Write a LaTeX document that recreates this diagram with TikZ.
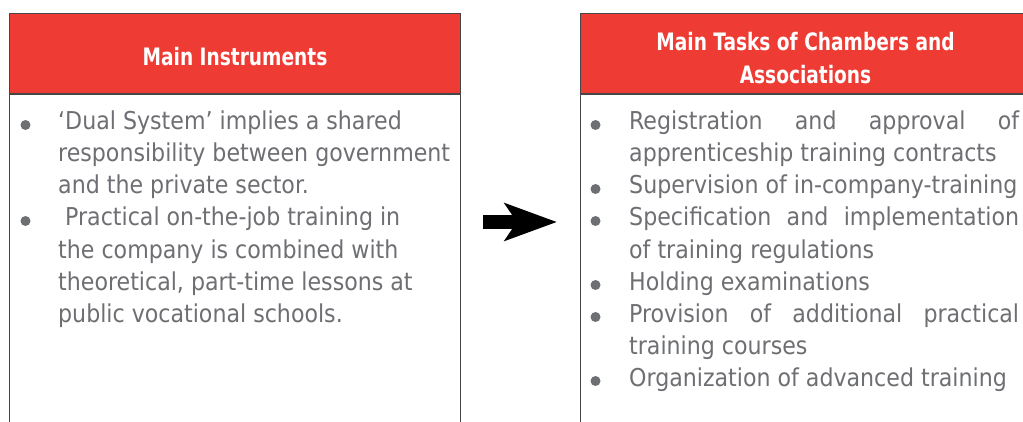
\documentclass[tikz,border=0pt]{standalone}
\usepackage{fontspec}
\setmainfont{DejaVu Sans Condensed}
\newfontfamily\hdrfont[FakeStretch=0.86]{DejaVu Sans Condensed}
\usetikzlibrary{arrows.meta}
\definecolor{hdrred}{RGB}{238,60,52}
\definecolor{txtgray}{RGB}{110,111,115}
\definecolor{edgegray}{RGB}{70,70,70}
\tikzset{
  hdrbox/.style={draw=edgegray, line width=1pt, fill=hdrred, minimum width=451pt, minimum height=80pt, inner sep=0pt},
  hdrtext/.style={text=white, font=\hdrfont\bfseries\fontsize{24}{34}\selectfont, anchor=base, inner sep=0pt},
  bodybox/.style={draw=edgegray, line width=1pt, fill=white, minimum width=451pt, minimum height=340pt, anchor=north, inner sep=0pt},
  txtline/.style={font=\fontsize{24.6}{32}\selectfont, text=txtgray, anchor=base west, inner sep=0pt},
  dot/.style={circle, fill=txtgray, minimum size=10pt, inner sep=0pt},
}
\begin{document}
\begin{tikzpicture}[x=1pt,y=1pt]
\useasboundingbox (0,0) rectangle (1023,421);
\begin{scope}
\clip (0,0) rectangle (1023,421);
% left box
\node[hdrbox] (lhead) at (235,367) {};
\node[bodybox] (lbody) at (lhead.south) {};
% right box
\node[hdrbox] (rhead) at (805.5,367) {};
\node[bodybox] (rbody) at (rhead.south) {};
\end{scope}
\node[hdrtext] (lht) at (235,355) {Main Instruments};
\node[hdrtext] (rht1) at (805.5,370.5) {Main Tasks of Chambers and};
\node[hdrtext] (rht2) at (805.5,337) {Associations};
% left text
\node[dot] (lb1) at (25.5,296) {};
\node[txtline] (l1) at (58,291) {‘Dual System’ implies a shared};
\node[txtline] (l2) at (58,259) {responsibility between government};
\node[txtline] (l3) at (58,227) {and the private sector.};
\node[dot] (lb2) at (25.5,200) {};
\node[txtline] (l4) at (58,195) {\ Practical on-the-job training in};
\node[txtline] (l5) at (58,163) {the company is combined with};
\node[txtline] (l6) at (58,131) {theoretical, part-time lessons at};
\node[txtline] (l7) at (58,99) {public vocational schools.};
% right text
\node[dot] (rb1) at (595.5,296) {};
\node[txtline] (r1) at (629,291) {\makebox[390pt][s]{Registration and approval of}};
\node[txtline] (r2) at (629,259) {apprenticeship training contracts};
\node[dot] (rb2) at (595.5,232) {};
\node[txtline] (r3) at (629,227) {Supervision of in-company-training};
\node[dot] (rb3) at (595.5,200) {};
\node[txtline] (r4) at (629,195) {\makebox[390pt][s]{Specification and implementation}};
\node[txtline] (r5) at (629,163) {of training regulations};
\node[dot] (rb4) at (595.5,136) {};
\node[txtline] (r6) at (629,131) {Holding examinations};
\node[dot] (rb5) at (595.5,104) {};
\node[txtline] (r7) at (629,99) {\makebox[390pt][s]{Provision of additional practical}};
\node[txtline] (r8) at (629,67) {training courses};
\node[dot] (rb6) at (595.5,40) {};
\node[txtline] (r9) at (629,35) {Organization of advanced training};
% arrow
\coordinate (a1) at (483,199);
\coordinate (a2) at (557,199);
\draw[line width=14.5pt, -{Stealth[length=52pt,width=37pt,inset=12pt]}] (a1) -- (a2);
\end{tikzpicture}
\end{document}
